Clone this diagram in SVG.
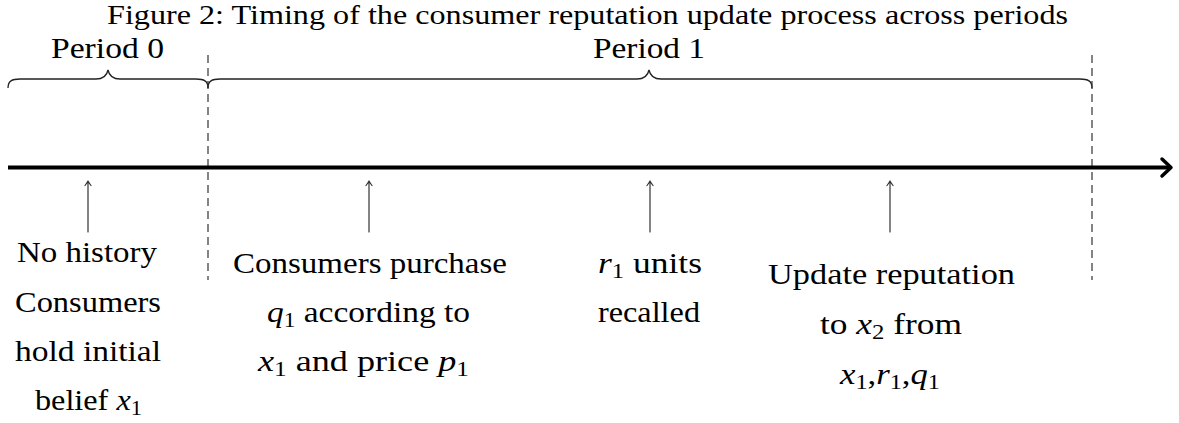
<svg xmlns="http://www.w3.org/2000/svg" width="1179" height="423" viewBox="0 0 1179 423" font-family="'Liberation Serif', 'DejaVu Serif', serif">
<style>
text{font-family:'Liberation Serif','DejaVu Serif',serif;font-size:30px;fill:#000}
.m{font-style:italic}
.s{font-size:21px;font-style:normal}
.brace{fill:none;stroke:#222;stroke-width:1.3}
.dash{fill:none;stroke:#333;stroke-width:1.2;stroke-dasharray:8 5}
.ev{fill:none;stroke:#333;stroke-width:1.2;stroke-linecap:round;stroke-linejoin:round}
</style>
<rect width="1179" height="423" fill="#fff"/>
<text id="title" x="107" y="24" textLength="961" lengthAdjust="spacingAndGlyphs" style="font-size:27px">Figure 2: Timing of the consumer reputation update process across periods</text>

<g id="period0">
<path class="brace" d="M8,88 C8,81 12,79 20,79 L96,79 C103,79 107,75 108,70 C109,75 113,79 120,79 L196,79 C204,79 208,81 208,88"/>
<text x="51" y="58" textLength="113" lengthAdjust="spacingAndGlyphs">Period 0</text>
</g>
<g id="period1">
<path class="brace" d="M208,88 C208,81 212,79 220,79 L637,79 C644,79 648,75 649,70 C650,75 654,79 661,79 L1080,79 C1088,79 1092,81 1092,88"/>
<text x="593" y="58" textLength="112" lengthAdjust="spacingAndGlyphs">Period 1</text>
</g>

<g id="connectors">
<line class="dash" x1="208" y1="55" x2="208" y2="280"/>
<line class="dash" x1="1092" y1="55" x2="1092" y2="280"/>
<line x1="8" y1="167.5" x2="1170" y2="167.5" stroke="#000" stroke-width="4"/>
<path d="M1162,159 L1171,167.5 L1162,176" fill="none" stroke="#000" stroke-width="3.5" stroke-linecap="round" stroke-linejoin="round"/>
<path class="ev" d="M88,232 V181 M85,185.5 Q87,183 88,181 Q89,183 91,185.5"/>
<path class="ev" d="M369,232 V181 M366,185.5 Q368,183 369,181 Q370,183 372,185.5"/>
<path class="ev" d="M650,232 V181 M647,185.5 Q649,183 650,181 Q651,183 653,185.5"/>
<path class="ev" d="M890,232 V181 M887,185.5 Q889,183 890,181 Q891,183 893,185.5"/>
</g>

<g id="event0">
<text x="17" y="262" textLength="140" lengthAdjust="spacingAndGlyphs">No history</text>
<text x="15" y="312" textLength="146" lengthAdjust="spacingAndGlyphs">Consumers</text>
<text x="15" y="361" textLength="146" lengthAdjust="spacingAndGlyphs">hold initial</text>
<text x="35" y="410" textLength="107" lengthAdjust="spacingAndGlyphs">belief <tspan class="m">x</tspan><tspan class="s" dy="5">1</tspan></text>
</g>
<g id="event1">
<text x="233" y="273" textLength="274" lengthAdjust="spacingAndGlyphs">Consumers purchase</text>
<text x="267" y="322" textLength="203" lengthAdjust="spacingAndGlyphs"><tspan class="m">q</tspan><tspan class="s" dy="5">1</tspan><tspan dy="-5"> according to</tspan></text>
<text x="258" y="371" textLength="211" lengthAdjust="spacingAndGlyphs"><tspan class="m">x</tspan><tspan class="s" dy="5">1</tspan><tspan dy="-5"> and price </tspan><tspan class="m">p</tspan><tspan class="s" dy="5">1</tspan></text>
</g>
<g id="event2">
<text x="598" y="273" textLength="104" lengthAdjust="spacingAndGlyphs"><tspan class="m">r</tspan><tspan class="s" dy="5">1</tspan><tspan dy="-5"> units</tspan></text>
<text x="598" y="322" textLength="102" lengthAdjust="spacingAndGlyphs">recalled</text>
</g>
<g id="event3">
<text x="768" y="284" textLength="247" lengthAdjust="spacingAndGlyphs">Update reputation</text>
<text x="820" y="334" textLength="142" lengthAdjust="spacingAndGlyphs">to <tspan class="m">x</tspan><tspan class="s" dy="5">2</tspan><tspan dy="-5"> from</tspan></text>
<text x="840" y="384" textLength="100" lengthAdjust="spacingAndGlyphs"><tspan class="m">x</tspan><tspan class="s" dy="5">1</tspan><tspan dy="-5">,</tspan><tspan class="m">r</tspan><tspan class="s" dy="5">1</tspan><tspan dy="-5">,</tspan><tspan class="m">q</tspan><tspan class="s" dy="5">1</tspan></text>
</g>
</svg>
